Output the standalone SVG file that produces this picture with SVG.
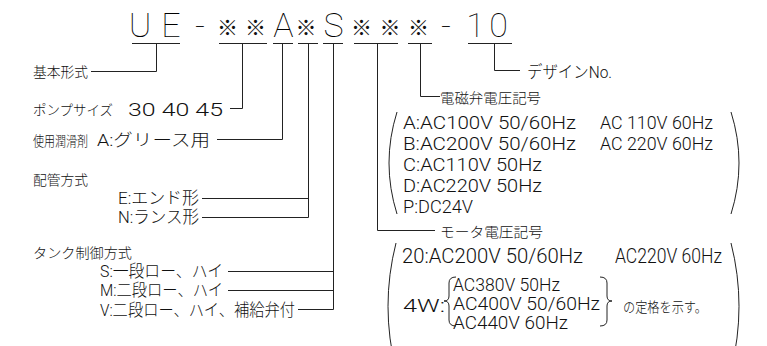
<svg xmlns="http://www.w3.org/2000/svg" width="767" height="346" viewBox="0 0 767 346">
<style>
text{fill:#111}
.t{font-family:"Roboto","Liberation Sans",sans-serif;font-weight:100;font-size:34px;text-anchor:middle;fill:#000}
.k{font-family:"Noto Sans CJK JP",sans-serif;font-weight:300;font-size:21px;text-anchor:middle}
.jp{font-family:"Noto Sans CJK JP",sans-serif;font-weight:300;font-size:14px}
.mx{font-family:"Roboto","Noto Sans CJK JP",sans-serif;font-weight:300;font-size:16.5px}
.v{font-family:"Roboto","Noto Sans CJK JP",sans-serif;font-weight:300;font-size:20px}
.vs{font-family:"Roboto","Noto Sans CJK JP",sans-serif;font-weight:300;font-size:18.5px}
.v2{font-family:"Roboto","Noto Sans CJK JP",sans-serif;font-weight:300;font-size:18px}
.ln{stroke:#222;stroke-width:1;fill:none}
</style>
<rect width="767" height="346" fill="#fff"/>
<g id="model-code">
<text y="37"><tspan class="t" x="140">U</tspan><tspan class="t" x="171">E</tspan><tspan class="t" x="200">-</tspan><tspan class="k" x="227.5" y="35">※</tspan><tspan class="k" x="255.5" y="35">※</tspan><tspan class="t" x="283.5" y="37">A</tspan><tspan class="k" x="306" y="35">※</tspan><tspan class="t" x="333.5" y="37">S</tspan><tspan class="k" x="361.5" y="35">※</tspan><tspan class="k" x="390" y="35">※</tspan><tspan class="k" x="418.5" y="35">※</tspan><tspan class="t" x="446" y="37">-</tspan><tspan class="t" x="475.5">1</tspan><tspan class="t" x="498.5">0</tspan></text>
</g>
<g id="basic-type"><text class="jp" x="33" y="77" textLength="55" lengthAdjust="spacingAndGlyphs">基本形式</text></g>
<g id="pump-size"><text class="jp" x="33" y="115" textLength="80" lengthAdjust="spacingAndGlyphs">ポンプサイズ</text><text class="v2" x="128" y="116" font-size="19" textLength="95" lengthAdjust="spacingAndGlyphs">30  40  45</text></g>
<g id="lubricant"><text class="jp" x="33" y="146" textLength="55" lengthAdjust="spacingAndGlyphs">使用潤滑剤</text><text class="mx" x="97" y="146" textLength="113" lengthAdjust="spacingAndGlyphs">A:グリース用</text></g>
<g id="piping"><text class="jp" x="33" y="185" textLength="55" lengthAdjust="spacingAndGlyphs">配管方式</text><text class="mx" x="118" y="203.5" textLength="81" lengthAdjust="spacingAndGlyphs">E:エンド形</text><text class="mx" x="118" y="223" textLength="81" lengthAdjust="spacingAndGlyphs">N:ランス形</text></g>
<g id="tank-control"><text class="jp" x="33" y="258" textLength="99" lengthAdjust="spacingAndGlyphs">タンク制御方式</text><text class="mx" x="100" y="277" textLength="123" lengthAdjust="spacingAndGlyphs">S:一段ロー、ハイ</text><text class="mx" x="100" y="296" textLength="123" lengthAdjust="spacingAndGlyphs">M:二段ロー、ハイ</text><text class="mx" x="100" y="315.5" textLength="195" lengthAdjust="spacingAndGlyphs">V:二段ロー、ハイ、補給弁付</text></g>
<g id="design-no"><text class="mx" x="527" y="78" textLength="85" lengthAdjust="spacingAndGlyphs">デザインNo.</text></g>
<g id="solenoid-voltage">
<text class="jp" x="440" y="103" textLength="101" lengthAdjust="spacingAndGlyphs">電磁弁電圧記号</text>
<path class="ln" d="M397,112 Q381,163 397,214"/>
<path class="ln" d="M731,112 Q747,163 731,214"/>
<text class="vs"><tspan x="403" y="129" textLength="173" lengthAdjust="spacingAndGlyphs">A:AC100V 50/60Hz</tspan><tspan x="600" y="129" textLength="113" lengthAdjust="spacingAndGlyphs">AC 110V 60Hz</tspan><tspan x="403" y="150" textLength="173" lengthAdjust="spacingAndGlyphs">B:AC200V 50/60Hz</tspan><tspan x="600" y="150" textLength="113" lengthAdjust="spacingAndGlyphs">AC 220V 60Hz</tspan><tspan x="403" y="171" textLength="139" lengthAdjust="spacingAndGlyphs">C:AC110V 50Hz</tspan><tspan x="403" y="192" textLength="139" lengthAdjust="spacingAndGlyphs">D:AC220V 50Hz</tspan><tspan x="403" y="213" textLength="70" lengthAdjust="spacingAndGlyphs">P:DC24V</tspan></text>
</g>
<g id="motor-voltage">
<text class="jp" x="440" y="237" textLength="103" lengthAdjust="spacingAndGlyphs">モータ電圧記号</text>
<path class="ln" d="M396,243 Q380,306 396,370"/>
<path class="ln" d="M731,243 Q747,306 731,370"/>
<text class="v" x="402" y="263" textLength="181" lengthAdjust="spacingAndGlyphs">20:AC200V 50/60Hz</text><text class="v" x="615" y="263" textLength="107" lengthAdjust="spacingAndGlyphs">AC220V 60Hz</text>
<text class="v2" x="403" y="312" textLength="42" lengthAdjust="spacingAndGlyphs">4W:</text>
<path class="ln" d="M456,277 Q449,277 449,283 L449,296 Q449,301 444,301 Q449,301 449,306 L449,320 Q449,326 456,326"/>
<text class="v2"><tspan x="453" y="291" textLength="107" lengthAdjust="spacingAndGlyphs">AC380V 50Hz</tspan><tspan x="453" y="310" textLength="147" lengthAdjust="spacingAndGlyphs">AC400V 50/60Hz</tspan><tspan x="453" y="329" textLength="115" lengthAdjust="spacingAndGlyphs">AC440V 60Hz</tspan></text>
<path class="ln" d="M600,277 Q607,277 607,283 L607,296 Q607,301 612,301 Q607,301 607,306 L607,320 Q607,326 600,326"/>
<text class="jp" x="623" y="312" textLength="84" lengthAdjust="spacingAndGlyphs">の定格を示す。</text>
</g>
<g id="connectors" class="ln">
<path d="M132,43.5H180M219,43.5H267M273,43.5H293M298,43.5H318M323,43.5H343M354,43.5H398M408,43.5H432M468,43.5H512"/>
<path d="M156.5,43.5V71.5H91"/>
<path d="M242.5,43.5V108.5H230"/>
<path d="M282.5,43.5V139.5H217"/>
<path d="M308.5,43.5V217.5H202M308.5,198.5H202"/>
<path d="M333.5,43.5V309.5H298M333.5,271.5H228M333.5,290.5H228"/>
<path d="M377.5,43.5V230.5H435"/>
<path d="M420.5,43.5V96.5H440"/>
<path d="M494.5,43.5V70.5H520"/>
</g>
</svg>
